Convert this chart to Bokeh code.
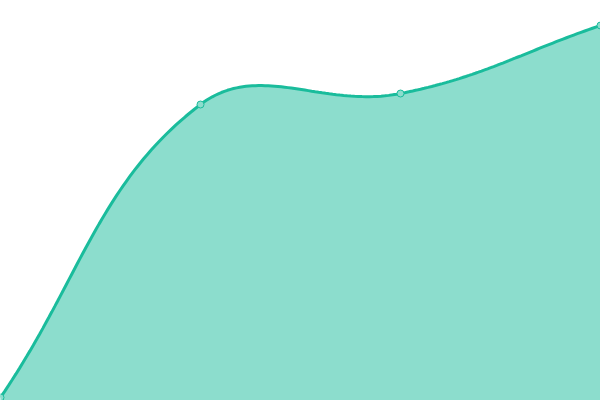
import numpy as np
from bokeh.plotting import figure
from bokeh.models import Range1d
from bokeh.embed import file_html
from bokeh.resources import INLINE

# data
categories = ["A", "B", "C", "D"]
values = [0.75, 74.0, 76.75, 93.75]

LINE = "#1abc9c"
TENSION = 0.4

W, H = 600, 400
x_range = Range1d(0.0, 3.0)
y_range = Range1d(0.0, 100.0)

p = figure(width=W, height=H, x_range=x_range, y_range=y_range,
           output_backend="svg", toolbar_location=None,
           min_border=0, outline_line_color=None)
p.axis.visible = False
p.grid.visible = False
p.background_fill_color = "white"
p.border_fill_color = "white"

xs = np.arange(len(values), dtype=float)
ys = np.array(values, dtype=float)

# screen-space scaling (so the smoothing matches pixel geometry)
sx = W / (x_range.end - x_range.start)
sy = H / (y_range.end - y_range.start)
P = np.column_stack([xs * sx, -ys * sy])

n = len(P)
cp_prev = np.zeros_like(P)
cp_next = np.zeros_like(P)
for i in range(n):
    prev = P[i - 1] if i > 0 else P[i]
    cur = P[i]
    nxt = P[i + 1] if i < n - 1 else P[i]
    d01 = np.hypot(*(cur - prev))
    d12 = np.hypot(*(nxt - cur))
    tot = d01 + d12
    fa = TENSION * d01 / tot if tot else 0
    fb = TENSION * d12 / tot if tot else 0
    cp_prev[i] = cur - fa * (nxt - prev)
    cp_next[i] = cur + fb * (nxt - prev)

curve = []
t = np.linspace(0, 1, 60)[:, None]
for i in range(n - 1):
    a, b, c, d = P[i], cp_next[i], cp_prev[i + 1], P[i + 1]
    seg = ((1 - t) ** 3) * a + 3 * ((1 - t) ** 2) * t * b + 3 * (1 - t) * t ** 2 * c + t ** 3 * d
    curve.append(seg if i == 0 else seg[1:])
curve = np.vstack(curve)
cx = curve[:, 0] / sx
cy = -curve[:, 1] / sy

base = -1.0
px = np.concatenate([cx, [cx[-1], cx[0]]])
py = np.concatenate([cy, [base, base]])

p.patch(px, py, fill_color=LINE, fill_alpha=0.5, line_color=None)
p.line(cx, cy, line_color=LINE, line_width=3)
p.scatter(xs, ys, size=7, fill_color="#8cddcd", line_color=LINE, line_width=1)

open("out.html", "w").write(file_html(p, INLINE))
